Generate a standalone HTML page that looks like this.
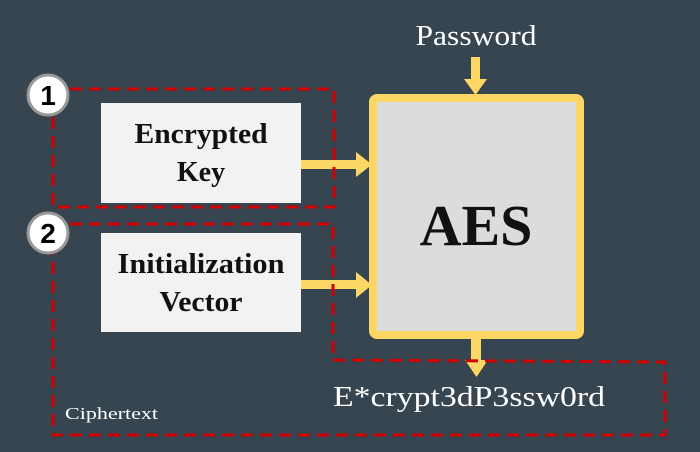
<!DOCTYPE html>
<html><head><style>
body{margin:0;background:#36454f;}
svg{display:block}
text{font-family:"Liberation Serif",serif}
</style></head><body>
<svg width="700" height="452" viewBox="0 0 700 452">
<rect width="700" height="452" fill="#36454f"/>
<rect x="471" y="57" width="9" height="24" fill="#fdd766"/>
<polygon points="464,79 487,79 475.5,95" fill="#fdd766"/>
<rect x="373" y="98" width="207" height="237" rx="4" fill="#dcdcdc" stroke="#fdd766" stroke-width="8"/>
<text x="476" y="245" font-size="58" font-weight="bold" text-anchor="middle" fill="#111">AES</text>
<rect x="101" y="103" width="200" height="100" fill="#f2f2f2"/>
<text x="201" y="143" font-size="28" font-weight="bold" text-anchor="middle" fill="#111" textLength="133" lengthAdjust="spacingAndGlyphs">Encrypted</text>
<text x="201" y="181" font-size="28" font-weight="bold" text-anchor="middle" fill="#111">Key</text>
<rect x="101" y="233" width="200" height="99" fill="#f2f2f2"/>
<text x="201" y="273" font-size="28" font-weight="bold" text-anchor="middle" fill="#111" textLength="167" lengthAdjust="spacingAndGlyphs">Initialization</text>
<text x="201" y="311" font-size="28" font-weight="bold" text-anchor="middle" fill="#111" textLength="83" lengthAdjust="spacingAndGlyphs">Vector</text>
<rect x="301" y="160" width="58" height="9" fill="#fdd766"/>
<polygon points="356,152 372,164.5 356,177" fill="#fdd766"/>
<rect x="301" y="280" width="58" height="9" fill="#fdd766"/>
<polygon points="356,272 372,285 356,298" fill="#fdd766"/>
<rect x="471" y="337" width="10" height="25" fill="#fdd766"/>
<polygon points="465,360 488,360 476.5,377" fill="#fdd766"/>
<g fill="none" stroke="#d00000" stroke-width="3" stroke-dasharray="12,7">
<path d="M70,89 H334 V207 H53 V110"/>
<path d="M70,224 H333 V360 L665,362 V435 H53 V252"/>
</g>
<circle cx="48" cy="95" r="20" fill="#fff" stroke="#999" stroke-width="3"/>
<text x="48" y="105" font-size="28" font-weight="bold" text-anchor="middle" fill="#000" style="font-family:'Liberation Sans',sans-serif">1</text>
<circle cx="48" cy="233" r="20" fill="#fff" stroke="#999" stroke-width="3"/>
<text x="48" y="243" font-size="28" font-weight="bold" text-anchor="middle" fill="#000" style="font-family:'Liberation Sans',sans-serif">2</text>
<text x="476" y="45" font-size="28" text-anchor="middle" fill="#fff" textLength="121" lengthAdjust="spacingAndGlyphs">Password</text>
<text x="469" y="406" font-size="28" text-anchor="middle" fill="#fff" textLength="272" lengthAdjust="spacingAndGlyphs">E*crypt3dP3ssw0rd</text>
<text x="65" y="419" font-size="17" fill="#fff" textLength="93" lengthAdjust="spacingAndGlyphs">Ciphertext</text>
</svg>
</body></html>
